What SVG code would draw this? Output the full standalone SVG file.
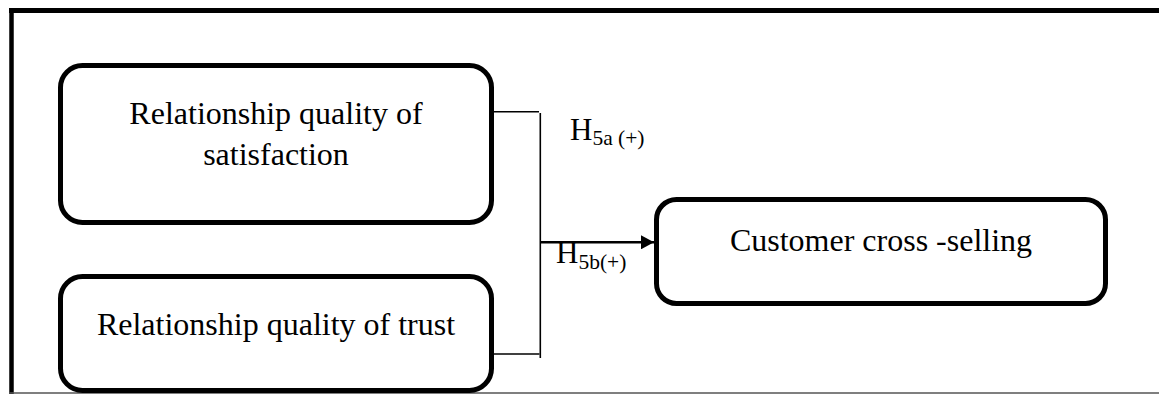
<svg xmlns="http://www.w3.org/2000/svg" width="1159" height="394" viewBox="0 0 1159 394">
  <style>
    .box { fill: #ffffff; stroke: #000000; stroke-width: 5; }
    .label { font-family: "Liberation Serif", "Times New Roman", serif; font-size: 32px; fill: #000000; }
    .hyp { font-family: "Liberation Serif", "Times New Roman", serif; font-size: 31px; fill: #000000; }
    .sub { font-size: 21.5px; }
    .wire { stroke: #000000; stroke-width: 1.6; fill: none; }
  </style>
  <defs>
    <marker id="arrowhead" markerWidth="14" markerHeight="14" refX="13" refY="7" orient="auto" markerUnits="userSpaceOnUse">
      <path d="M0,0 L13,7 L0,14 Z" fill="#000000"/>
    </marker>
  </defs>

  <rect width="1159" height="394" fill="#ffffff"/>

  <!-- outer frame -->
  <g id="frame">
    <line x1="9" y1="10.5" x2="1159" y2="10.5" stroke="#000000" stroke-width="5"/>
    <line x1="11.5" y1="8" x2="11.5" y2="394" stroke="#000000" stroke-width="4.5"/>
    <line x1="9" y1="393" x2="1159" y2="393" stroke="#555555" stroke-width="1.5"/>
  </g>

  <!-- connectors -->
  <g id="connectors">
    <line class="wire" x1="493" y1="111.7" x2="539" y2="111.7"/>
    <line class="wire" x1="540.3" y1="113" x2="540.3" y2="358"/>
    <line class="wire" x1="493" y1="354" x2="539.5" y2="354"/>
    <line x1="540.3" y1="242.3" x2="654" y2="242.3" stroke="#000000" stroke-width="2.6" marker-end="url(#arrowhead)"/>
    <text class="hyp" x="570" y="140">H<tspan class="sub" dy="5">5a (+)</tspan></text>
    <text class="hyp" x="556" y="262.7">H<tspan class="sub" dy="6">5b(+)</tspan></text>
  </g>

  <g id="node-satisfaction">
    <rect class="box" x="60.5" y="65.5" width="431" height="157" rx="22" ry="22"/>
    <text class="label" x="276" y="124" text-anchor="middle">Relationship quality of</text>
    <text class="label" x="276" y="165" text-anchor="middle">satisfaction</text>
  </g>

  <g id="node-trust">
    <rect class="box" x="60.5" y="276.5" width="431" height="114" rx="22" ry="22"/>
    <text class="label" x="276" y="335" text-anchor="middle">Relationship quality of trust</text>
  </g>

  <g id="node-cross-selling">
    <rect class="box" x="656.5" y="199.5" width="449" height="104" rx="20" ry="20"/>
    <text class="label" x="881" y="250.7" text-anchor="middle">Customer cross -selling</text>
  </g>
</svg>
